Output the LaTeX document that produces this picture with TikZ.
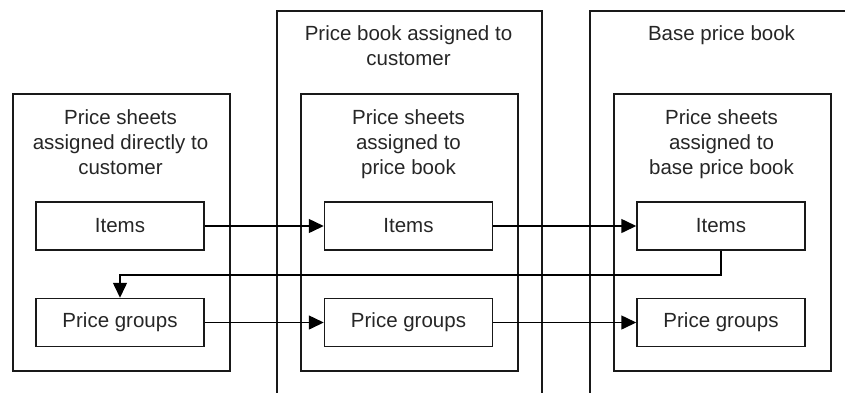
\documentclass[tikz,border=0pt]{standalone}
\usepackage{fontspec}
\setmainfont{Liberation Sans}
\usetikzlibrary{arrows.meta}
\begin{document}
\begin{tikzpicture}[x=1pt,y=-1pt,
  box/.style={draw=black!90,line width=1.5pt,inner sep=0pt,anchor=north west},
  title/.style={align=center,font=\fontsize{20.5}{25}\selectfont,text=black!85,inner sep=0pt},
  leaf/.style={draw=black!90,line width=1.5pt,minimum width=168pt,minimum height=48pt,inner sep=0pt,font=\fontsize{20.5}{24}\selectfont,text=black!85},
  conn/.style={line width=1.5pt,draw=black,-{Triangle[length=15pt,width=14pt]}}]
\useasboundingbox (0,0) rectangle (845,392);
\clip (0,0) rectangle (845,392);
% outer boxes
\node[box,minimum width=217pt,minimum height=277pt] (lout) at (12,93) {};
\node[box,minimum width=265pt,minimum height=400pt] (mout) at (276,10) {};
\node[box,minimum width=270pt,minimum height=400pt] (rout) at (589,10) {};
% inner boxes
\node[box,minimum width=217pt,minimum height=277pt] (min) at (300,93) {};
\node[box,minimum width=217pt,minimum height=277pt] (rin) at (613,93) {};
% titles
\node[title,anchor=north] (ltitle) at (120.5,109) {Price sheets\\assigned directly to\\customer};
\node[title,anchor=north] (mtitle) at (408.5,25) {Price book assigned to\\customer};
\node[title,anchor=north] (rtitle) at (721.5,25) {Base price book};
\node[title,anchor=north] (mintitle) at (408.5,109) {Price sheets\\assigned to\\price book};
\node[title,anchor=north] (rintitle) at (721.5,109) {Price sheets\\assigned to\\base price book};
% leaves
\node[leaf] (li) at (120,226) {Items};
\node[leaf] (lp) at (120,322.5) {Price groups};
\node[leaf] (mi) at (408.5,226) {Items};
\node[leaf] (mp) at (408.5,322.5) {Price groups};
\node[leaf] (ri) at (721,226) {Items};
\node[leaf] (rp) at (721,322.5) {Price groups};
% connectors
\draw[conn] (li) -- (mi);
\draw[conn] (mi) -- (ri);
\draw[conn] (lp) -- (mp);
\draw[conn] (mp) -- (rp);
\draw[conn] (ri.south) -- ++(0,24) -| (lp.north);
\end{tikzpicture}
\end{document}
